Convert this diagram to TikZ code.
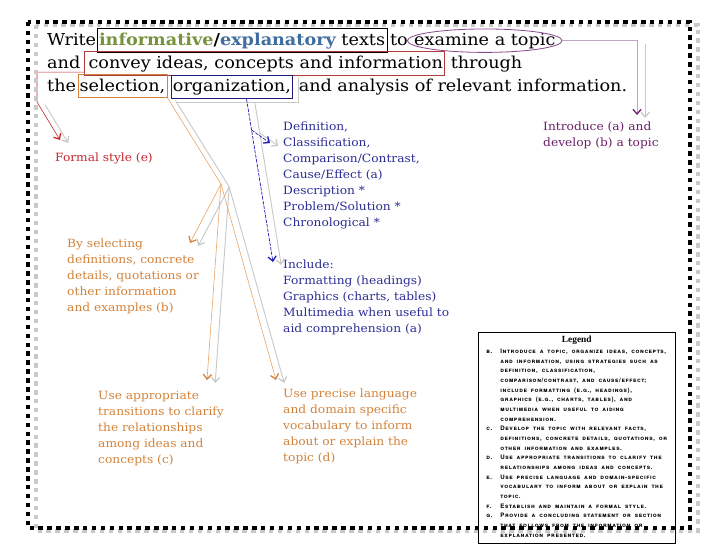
\documentclass[tikz,border=0pt]{standalone}
\usepackage{fontspec}
\setmainfont[FakeStretch=1.075]{DejaVu Serif}
\newfontfamily\legendfont[LetterSpace=10]{TeX Gyre Heros}
\newfontfamily\legendhead{Liberation Serif}
\usetikzlibrary{arrows.meta, positioning, calc}

\definecolor{infogreen}{HTML}{76923C}
\definecolor{explblue}{HTML}{3F6D9E}
\definecolor{formred}{HTML}{C4262C}
\definecolor{boxred}{HTML}{B03A3A}
\definecolor{noteorange}{HTML}{D2823A}
\definecolor{lineorange}{HTML}{E8A264}
\definecolor{notenavy}{HTML}{2C2C96}
\definecolor{boxnavy}{HTML}{1C1C78}
\definecolor{arrowblue}{HTML}{1E1EB8}
\definecolor{notepurple}{HTML}{6A1F68}
\definecolor{ellpurple}{HTML}{8A4A8A}
\definecolor{linepurple}{HTML}{BFA4C6}
\definecolor{shadowgray}{HTML}{C9C9C9}

\newcommand\hdrsize{\fontsize{14}{16}\selectfont}
\newcommand\notesize{\fontsize{9.7}{13.6}\selectfont}

\begin{document}
\begin{tikzpicture}[x=0.03cm, y=-0.03cm,
  hw/.style={inner sep=0pt, anchor=base west, font=\hdrsize},
  hbox/.style={hw, draw, line width=0.5pt, inner xsep=1.5pt, inner ysep=3.5pt},
  note/.style={inner sep=0pt, anchor=north west, align=left, font=\notesize},
  barb/.style={-{Straight Barb[length=4pt, width=7pt, line width=1.1pt, color=#1]}},
  formline/.style={formred, line width=0.5pt, barb=formred},
  selline/.style={lineorange, line width=0.5pt, barb=noteorange},
  orgline/.style={arrowblue, line width=0.6pt, dash pattern=on 3pt off 1pt, barb=arrowblue},
  topicline/.style={linepurple, line width=0.6pt, barb=notepurple},
  shadowline/.style={shadowgray, line width=0.8pt, barb=shadowgray,
    transform canvas={shift={(7pt,-2.5pt)}}},
  frame/.style={line width=3.8pt, dash pattern=on 3.8pt off 3.8pt}]

\useasboundingbox (0,0) rectangle (728,546);

% Header sentence
\node[hw] (write) at (47,45) {Write};
\node[hbox] (texts) at ([xshift=0.5pt]write.base east)
  {\textbf{\color{infogreen}informative}\textbf{/}\textbf{\color{explblue}explanatory} texts};
\node[hw] (to) at (texts.base east) {\,to};
\node[hw] (topic) at ([xshift=5pt]to.base east) {examine a topic};
\draw[ellpurple, line width=0.7pt] (topic.center) ellipse [x radius=66pt, y radius=10pt];
\coordinate (topicend) at ([xshift=66pt]topic.center);

\node[hw] (and) at (47,68) {and};
\node[hbox, draw=boxred] (convey) at ([xshift=3pt]and.base east) {\hspace{2pt}convey ideas, concepts and information};
\node[hw] (through) at (convey.base east) {\ through};

\node[hw] (the) at (47,91) {the};
\node[hbox, draw=noteorange] (sel) at ([xshift=1pt]the.base east) {selection,};
\node[hbox, draw=boxnavy] (org) at ([xshift=3pt]sel.base east) {organization,};
\draw[shadowgray, line width=0.6pt] ([shift={(5,3)}]org.north east)
  -- ([shift={(5,3)}]org.south east) -- ([shift={(5,3)}]org.south west);
\node[hw] (rest) at (org.base east) {\ and analysis of relevant information.};

% Notes
\node[note, text=notepurple] (intro) at (543,122) {Introduce (a) and\\develop (b) a topic};
\node[note, text=formred] (formal) at (55,153) {Formal style (e)};
\node[note, text=notenavy] (def) at (283,122)
  {Definition,\\Classification,\\Comparison/Contrast,\\Cause/Effect (a)\\
   Description *\\Problem/Solution *\\Chronological *};
\node[note, text=notenavy] (incl) at (283,260)
  {Include:\\Formatting (headings)\\Graphics (charts, tables)\\
   Multimedia when useful to\\aid comprehension (a)};
\node[note, text=noteorange] (bysel) at (67,239)
  {By selecting\\definitions, concrete\\details, quotations or\\
   other information\\and examples (b)};
\node[note, text=noteorange] (trans) at (98,391)
  {Use appropriate\\transitions to clarify\\the relationships\\
   among ideas and\\concepts (c)};
\node[note, text=noteorange] (precise) at (283,389)
  {Use precise language\\and domain specific\\vocabulary to inform\\
   about or explain the\\topic (d)};

% Connector ends
\coordinate (introtip) at ([shift={(94,-7)}]intro.north west);
\coordinate (conveyfoot) at ([shift={(0,-4)}]convey.south west);
\coordinate (redbend) at (37,102);
\coordinate (formaltip) at ([shift={(5,-13)}]formal.north west);
\coordinate (seljoin) at (221,184);
\coordinate (byseltip) at ([shift={(123,4)}]bysel.north west);
\coordinate (transtip) at ([shift={(109,-11)}]trans.north west);
\coordinate (precisetip) at ([shift={(-7,-9)}]precise.north west);
\coordinate (orgstart) at ($(org.south west)!0.62!(org.south east)$);
\coordinate (incltip) at ([shift={(-10,2)}]incl.north west);
\coordinate (orgfork) at ($(orgstart)!0.19!(incltip)$);
\coordinate (deftip) at ([shift={(-13,21)}]def.north west);

% Shadows of the connectors
\draw[shadowline] (topicend -| introtip) -- (introtip);
\draw[shadowline] (redbend) -- (formaltip);
\draw[shadowline] (sel.south east) -- (seljoin) -- (byseltip);
\draw[shadowline] (seljoin) -- (transtip);
\draw[shadowline] (seljoin) -- (precisetip);
\draw[shadowline] (orgstart) -- (incltip);
\draw[shadowline] (orgfork) -- (deftip);

% Connectors
\draw[topicline] (topicend) -| (introtip);
\draw[formline] (conveyfoot) -| (redbend) -- (formaltip);
\draw[selline] (sel.south east) -- (seljoin) -- (byseltip);
\draw[selline] (seljoin) -- (transtip);
\draw[selline] (seljoin) -- (precisetip);
\draw[orgline] (orgstart) -- (incltip);
\draw[orgline] (orgfork) -- (deftip);

% Legend
\node[draw, fill=white, line width=0.6pt, anchor=north west, minimum width=168pt,
      minimum height=178pt, inner sep=3pt, text width=160pt, align=center] (legend) at (478,332)
  {{\legendhead\fontsize{8}{9}\selectfont\bfseries Legend}\\[1pt]
   {\legendfont\fontsize{5.2}{8.25}\selectfont\bfseries\scshape
   \begin{tabular}{@{}p{12pt}@{}l@{}}
   b. & Introduce a topic, organize ideas, concepts,\\
      & and information, using strategies such as\\
      & definition, classification,\\
      & comparison/contrast, and cause/effect;\\
      & include formatting (e.g., headings),\\
      & graphics (e.g., charts, tables), and\\
      & multimedia when useful to aiding\\
      & comprehension.\\
   c. & Develop the topic with relevant facts,\\
      & definitions, concrete details, quotations, or\\
      & other information and examples.\\
   d. & Use appropriate transitions to clarify the\\
      & relationships among ideas and concepts.\\
   e. & Use precise language and domain-specific\\
      & vocabulary to inform about or explain the\\
      & topic.\\
   f. & Establish and maintain a formal style.\\
   g. & Provide a concluding statement or section\\
      & that follows from the information or\\
      & explanation presented.
   \end{tabular}}};

% Frame
\draw[frame, shadowgray] (36,25) rectangle (698,531);
\draw[frame, black] (28,22) rectangle (690,528);

\end{tikzpicture}
\end{document}
